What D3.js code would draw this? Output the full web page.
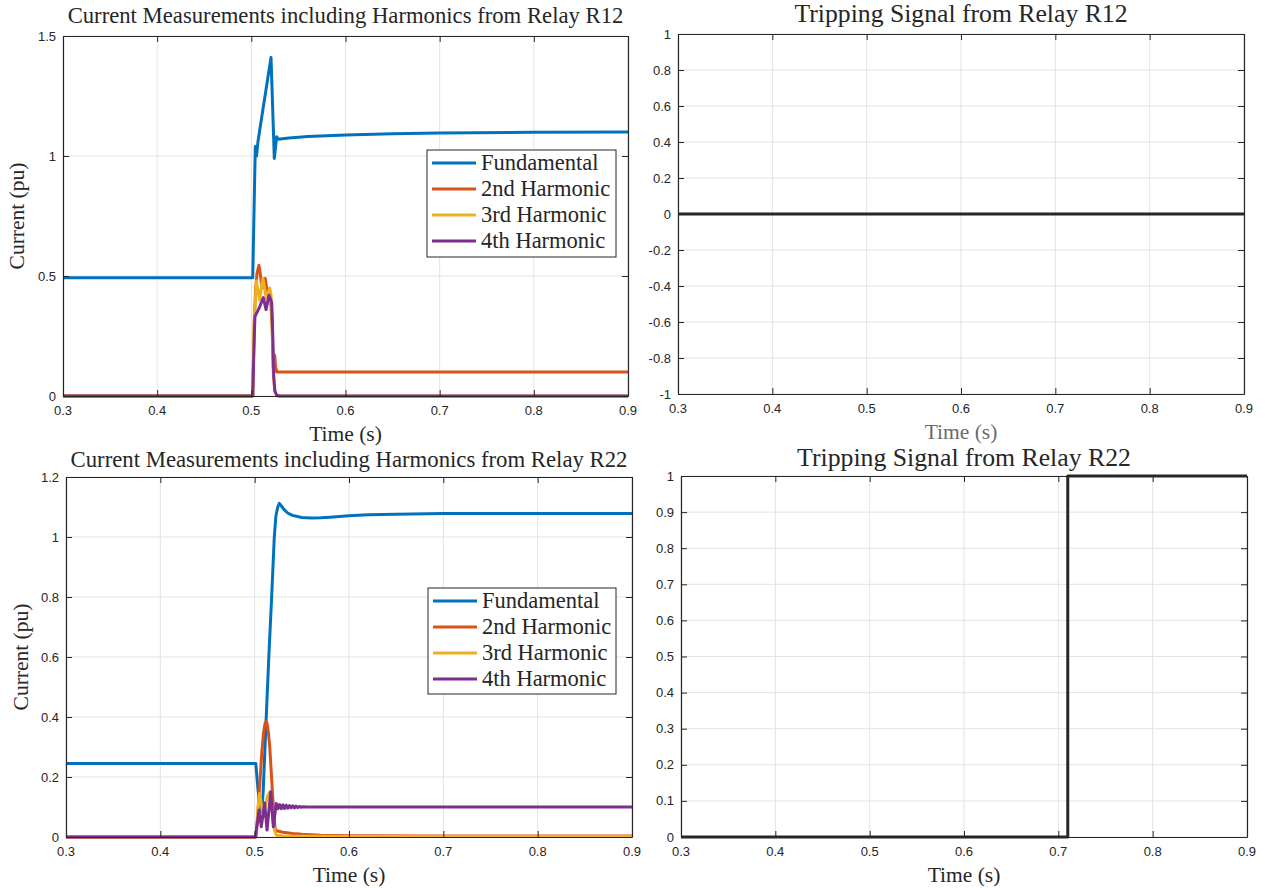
<!DOCTYPE html>
<html>
<head>
<meta charset="utf-8">
<script src="https://cdn.jsdelivr.net/npm/d3@7"></script>
<style>
  html, body { margin: 0; padding: 0; background: #ffffff; }
  svg { display: block; }
  .tick-label { font-family: "Liberation Sans", Arial, sans-serif; font-size: 13px; fill: #262626; }
  .serif { font-family: "Liberation Serif", "Times New Roman", serif; fill: #262626; }
</style>
</head>
<body>
<svg id="fig" width="1265" height="888"></svg>
<script>
// ---- Relay R12: harmonic content of the measured current (t in s, value in pu)
const r12Fundamental = [
  [0.3, 0.493], [0.5015, 0.493], [0.5042, 1.04], [0.5055, 1.0], [0.5072, 1.065],
  [0.5209, 1.411], [0.5244, 0.99], [0.5269, 1.08], [0.5285, 1.07], [0.54, 1.075],
  [0.56, 1.081], [0.6, 1.088], [0.65, 1.093], [0.7, 1.096], [0.8, 1.099], [0.9, 1.1]
];
const r12Second = [
  [0.3, 0], [0.5015, 0], [0.503, 0.3], [0.5045, 0.44], [0.506, 0.51], [0.5081, 0.545],
  [0.5098, 0.5], [0.5113, 0.45], [0.513, 0.47], [0.5148, 0.49], [0.5162, 0.45],
  [0.5177, 0.41], [0.519, 0.42], [0.5205, 0.4], [0.522, 0.3], [0.5232, 0.12],
  [0.5242, 0.1], [0.5248, 0.17], [0.5258, 0.12], [0.5273, 0.1], [0.53, 0.1], [0.9, 0.1]
];
const r12Third = [
  [0.3, 0], [0.5015, 0], [0.503, 0.3], [0.5053, 0.48], [0.507, 0.44], [0.5089, 0.4],
  [0.5105, 0.45], [0.5124, 0.49], [0.514, 0.45], [0.5159, 0.405], [0.5178, 0.43],
  [0.5195, 0.45], [0.521, 0.42], [0.5222, 0.3], [0.5232, 0.1], [0.525, 0.02],
  [0.527, 0], [0.9, 0]
];
const r12Fourth = [
  [0.3, 0], [0.5015, 0], [0.5028, 0.2], [0.5038, 0.33], [0.5055, 0.345], [0.5075, 0.36],
  [0.5092, 0.375], [0.5112, 0.395], [0.5127, 0.41], [0.5142, 0.385], [0.5156, 0.36],
  [0.5172, 0.39], [0.5188, 0.42], [0.5202, 0.405], [0.5216, 0.39], [0.5228, 0.25],
  [0.5238, 0.08], [0.525, 0.02], [0.527, 0.003], [0.53, 0], [0.9, 0]
];

// ---- Relay R22
const r22Fundamental = [
  [0.3, 0.245], [0.5012, 0.245], [0.5035, 0.16], [0.506, 0.09], [0.5075, 0.085],
  [0.509, 0.15], [0.512, 0.38], [0.515, 0.6], [0.518, 0.8], [0.5208, 1.0],
  [0.5225, 1.07], [0.5245, 1.1], [0.5261, 1.112], [0.528, 1.105], [0.531, 1.092],
  [0.535, 1.08], [0.54, 1.072], [0.55, 1.065], [0.56, 1.063], [0.57, 1.064],
  [0.58, 1.066], [0.6, 1.071], [0.62, 1.074], [0.65, 1.076], [0.7, 1.078],
  [0.8, 1.078], [0.9, 1.078]
];
const r22Second = [
  [0.3, 0], [0.5015, 0], [0.5035, 0.08], [0.5055, 0.18], [0.5075, 0.28], [0.5095, 0.35],
  [0.511, 0.378], [0.512, 0.385], [0.513, 0.38], [0.5145, 0.35], [0.516, 0.3],
  [0.5175, 0.22], [0.519, 0.14], [0.5205, 0.07], [0.5218, 0.025], [0.524, 0.02],
  [0.53, 0.016], [0.54, 0.012], [0.55, 0.009], [0.57, 0.006], [0.6, 0.004],
  [0.7, 0.003], [0.9, 0.003]
];
const r22Third = [
  [0.3, 0], [0.5015, 0], [0.5035, 0.1], [0.5053, 0.145], [0.507, 0.11], [0.5088, 0.08],
  [0.511, 0.1], [0.5135, 0.135], [0.5155, 0.148], [0.518, 0.1], [0.5198, 0.045],
  [0.5212, 0.02], [0.523, 0.006], [0.53, 0.003], [0.6, 0.002], [0.9, 0.002]
];
const r22Fourth = [
  [0.3, 0], [0.5008, 0], [0.5046, 0.09], [0.507, 0.034], [0.5106, 0.113], [0.5131, 0.023],
  [0.517, 0.151], [0.5198, 0.034], [0.5229, 0.112], [0.5247, 0.094], [0.5264, 0.108],
  [0.5282, 0.094], [0.5299, 0.107], [0.5317, 0.095], [0.5334, 0.106], [0.5352, 0.096],
  [0.5369, 0.105], [0.5387, 0.097], [0.5404, 0.104], [0.5422, 0.097], [0.5439, 0.103],
  [0.5457, 0.098], [0.5474, 0.102], [0.5492, 0.099], [0.551, 0.101], [0.556, 0.1],
  [0.9, 0.1]
];

// ---- Trip commands (0 = no trip, 1 = trip)
const r12Trip = [[0.3, 0], [0.9, 0]];
const r22Trip = [[0.3, 0], [0.71, 1], [0.9, 1]];

// ---- Series names, colours and tick values
const seriesNames = ["Fundamental", "2nd Harmonic", "3rd Harmonic", "4th Harmonic"];
const seriesColors = ["#0072BD", "#D95319", "#EDB120", "#7E2F8E"];
const timeTicks = [0.3, 0.4, 0.5, 0.6, 0.7, 0.8, 0.9];
const r12CurrentTicks = [0, 0.5, 1, 1.5];
const r22CurrentTicks = [0, 0.2, 0.4, 0.6, 0.8, 1, 1.2];
const r12TripTicks = [-1, -0.8, -0.6, -0.4, -0.2, 0, 0.2, 0.4, 0.6, 0.8, 1];
const r22TripTicks = [0, 0.1, 0.2, 0.3, 0.4, 0.5, 0.6, 0.7, 0.8, 0.9, 1];

const svg = d3.select("#fig");
const axisColor = "#262626";
const gridColor = "#e3e3e3";

// scale a text's font size so it spans the given width
function fitWidth(sel, baseSize, width) {
  sel.style("font-size", baseSize + "px");
  const w = sel.node().getComputedTextLength();
  if (w > 0) sel.style("font-size", (baseSize * width / w).toFixed(2) + "px");
}

function drawPanel(p) {
  const x = d3.scaleLinear().domain([0.3, 0.9]).range([p.left, p.right]);
  const y = d3.scaleLinear().domain(p.yDomain).range([p.bottom, p.top]);
  const g = svg.append("g");

  // grid
  g.selectAll(".gx").data(timeTicks).join("line")
    .attr("x1", d => x(d)).attr("x2", d => x(d))
    .attr("y1", p.top).attr("y2", p.bottom)
    .attr("stroke", gridColor).attr("stroke-width", 1);
  g.selectAll(".gy").data(p.yTicks).join("line")
    .attr("x1", p.left).attr("x2", p.right)
    .attr("y1", d => y(d)).attr("y2", d => y(d))
    .attr("stroke", gridColor).attr("stroke-width", 1);

  // data lines
  const line = d3.line().x(d => x(d[0])).y(d => y(d[1]));
  if (p.step) line.curve(d3.curveStepAfter);
  p.series.forEach((s, i) => {
    g.append("path").datum(s)
      .attr("d", line)
      .attr("fill", "none")
      .attr("stroke", p.colors[i])
      .attr("stroke-width", 3)
      .attr("stroke-linejoin", "round");
  });

  // axis box with inward ticks on all four sides
  const tl = 6;
  const xb = d3.axisBottom(x).tickValues(timeTicks).tickSizeInner(-tl).tickSizeOuter(0).tickFormat("");
  const xt = d3.axisTop(x).tickValues(timeTicks).tickSizeInner(-tl).tickSizeOuter(0).tickFormat("");
  const yl = d3.axisLeft(y).tickValues(p.yTicks).tickSizeInner(-tl).tickSizeOuter(0).tickFormat("");
  const yr = d3.axisRight(y).tickValues(p.yTicks).tickSizeInner(-tl).tickSizeOuter(0).tickFormat("");
  [[xb, `translate(0,${p.bottom})`], [xt, `translate(0,${p.top})`],
   [yl, `translate(${p.left},0)`], [yr, `translate(${p.right},0)`]].forEach(([ax, tr]) => {
    const a = g.append("g").attr("transform", tr).call(ax);
    a.selectAll("line").attr("stroke", axisColor).attr("stroke-width", 1);
    a.select(".domain").attr("stroke", axisColor).attr("stroke-width", 1.2);
  });

  // tick labels
  g.selectAll(".xl").data(timeTicks).join("text")
    .attr("class", "tick-label")
    .attr("x", d => x(d)).attr("y", p.bottom + 19)
    .attr("text-anchor", "middle")
    .text(d => d3.format(".1f")(d));
  g.selectAll(".yl").data(p.yTicks).join("text")
    .attr("class", "tick-label")
    .attr("x", p.left - 7).attr("y", d => y(d) + 4.5)
    .attr("text-anchor", "end")
    .text(d => String(+d.toFixed(1)));

  // title and axis labels
  const title = g.append("text").attr("class", "serif")
    .attr("x", (p.left + p.right) / 2).attr("y", p.titleY)
    .attr("text-anchor", "middle")
    .text(p.title);
  fitWidth(title, 21, p.titleWidth);
  g.append("text").attr("class", "serif")
    .attr("x", (p.left + p.right) / 2).attr("y", p.bottom + 45)
    .attr("text-anchor", "middle").style("font-size", "21.5px")
    .style("fill", p.xLabelColor || axisColor)
    .text("Time (s)");
  if (p.yLabel) {
    const cy = (p.top + p.bottom) / 2;
    g.append("text").attr("class", "serif")
      .attr("transform", `translate(${p.yLabelX},${cy}) rotate(-90)`)
      .attr("text-anchor", "middle").style("font-size", "21.5px")
      .text(p.yLabel);
  }

  // legend
  if (p.legend) {
    const L = p.legend;
    const lg = g.append("g");
    lg.append("rect")
      .attr("x", L.x).attr("y", L.y).attr("width", L.w).attr("height", L.h)
      .attr("fill", "#ffffff").attr("stroke", axisColor).attr("stroke-width", 1);
    seriesNames.forEach((name, i) => {
      const ey = L.y + 13 + i * 26;
      lg.append("line")
        .attr("x1", L.x + 5).attr("x2", L.x + 49).attr("y1", ey).attr("y2", ey)
        .attr("stroke", p.colors[i]).attr("stroke-width", 3);
      lg.append("text").attr("class", "serif")
        .attr("x", L.x + 54).attr("y", ey + 7)
        .style("font-size", "22.5px")
        .text(name);
    });
  }
}

drawPanel({
  left: 63, right: 628, top: 36, bottom: 396,
  yDomain: [0, 1.5], yTicks: r12CurrentTicks,
  series: [r12Fundamental, r12Second, r12Third, r12Fourth], colors: seriesColors,
  title: "Current Measurements including Harmonics from Relay R12", titleY: 23, titleWidth: 556,
  yLabel: "Current (pu)", yLabelX: 24,
  legend: { x: 427, y: 150, w: 189, h: 107 }
});
drawPanel({
  left: 678, right: 1244, top: 34, bottom: 394,
  yDomain: [-1, 1], yTicks: r12TripTicks,
  series: [r12Trip], colors: [axisColor],
  title: "Tripping Signal from Relay R12", titleY: 22, titleWidth: 333,
  xLabelColor: "#6a6a6a"
});
drawPanel({
  left: 66, right: 632, top: 477, bottom: 837,
  yDomain: [0, 1.2], yTicks: r22CurrentTicks,
  series: [r22Fundamental, r22Second, r22Third, r22Fourth], colors: seriesColors,
  title: "Current Measurements including Harmonics from Relay R22", titleY: 467, titleWidth: 557,
  yLabel: "Current (pu)", yLabelX: 28,
  legend: { x: 428, y: 588, w: 188, h: 106 }
});
drawPanel({
  left: 681, right: 1247, top: 476, bottom: 837,
  yDomain: [0, 1], yTicks: r22TripTicks,
  series: [r22Trip], colors: [axisColor], step: true,
  title: "Tripping Signal from Relay R22", titleY: 466, titleWidth: 334
});
</script>
</body>
</html>
